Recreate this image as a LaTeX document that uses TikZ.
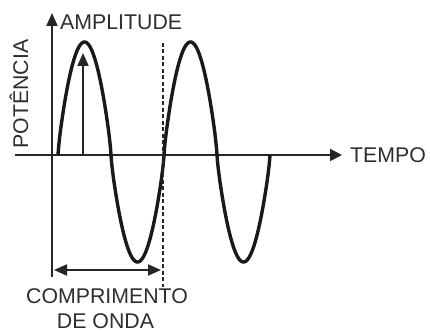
\documentclass[tikz,border=0pt]{standalone}
\usepackage{fontspec}
\setmainfont{Liberation Sans}
\usetikzlibrary{arrows.meta}
\begin{document}
\begin{tikzpicture}[x=1pt,y=-1pt,
  lbl/.style={inner sep=0pt,font=\fontsize{21.3}{24}\selectfont,text=black!82},
  axis/.style={line width=1.9pt,black!85},
  wave/.style={line width=3.4pt,black!90,line join=round},
  tip/.style={-{Triangle[length=13pt,width=11pt]}},
  guide/.style={line width=1.4pt,black!85,dash pattern=on 4pt off 2.5pt},
  declare function={sn(\t)=sin(3.396226*\t); sg(\t)=2*(sn(\t)>0)-1; wv(\t)=sg(\t)*(107+6*(sn(\t)>0))*pow(abs(sn(\t))+0.0001,0.8);}]
\useasboundingbox (0,0) rectangle (430,331);
% coordinates
\coordinate (vbot) at (52,277);
\coordinate (vtop) at (52,13);
\coordinate (hleft) at (15,155);
\coordinate (hright) at (342,155);
\coordinate (abase) at (83,155);
\coordinate (atop) at (83,53);
\coordinate (dtop) at (163,43);
\coordinate (dbot) at (163,287);
\coordinate (wl) at (54,270);
\coordinate (wr) at (161,270);
% axes
\draw[axis,tip] (vbot) -- (vtop);
\draw[axis,-{Triangle[length=12pt,width=12pt]}] (hleft) -- (hright);
% wave
\draw[wave,domain=0:212,samples=300,variable=\t]
  plot ({58+\t},{155 - wv(\t)});
% amplitude arrow
\draw[axis,tip] (abase) -- (atop);
% dashed guide
\draw[guide] (dtop) -- (dbot);
% wavelength arrow
\draw[axis,{Triangle[length=13pt,width=11pt]}-{Triangle[length=13pt,width=11pt]}] (wl) -- (wr);
% labels
\node[lbl,anchor=west] (amp) at (60,22.5) {AMPLITUDE};
\node[lbl,anchor=west] (tempo) at (350,155) {TEMPO};
\node[lbl,anchor=south,rotate=90] (pot) at (28.5,94) {POTÊNCIA};
\node[lbl,anchor=base] (comp) at (107,303) {COMPRIMENTO};
\node[lbl,anchor=base] (onda) at (105.5,328) {DE ONDA};
\end{tikzpicture}
\end{document}
